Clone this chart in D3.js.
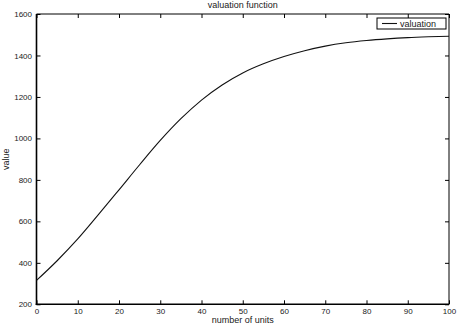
<!DOCTYPE html>
<html>
<head>
<meta charset="utf-8">
<script src="https://cdn.jsdelivr.net/npm/d3@7"></script>
<style>
  html, body { margin: 0; padding: 0; background: #fff; }
  svg { display: block; }
  text { font-family: "Liberation Sans", Arial, Helvetica, sans-serif; fill: #1a1a1a; }
</style>
</head>
<body>
<svg id="chart" width="458" height="324"></svg>
<script>
// Data
const units = [0, 5, 10, 15, 20, 25, 30, 35, 40, 45, 50, 55, 60, 65, 70, 75, 80, 85, 90, 95, 100];
const valuation = [315, 410, 515, 632, 752, 873, 990, 1095, 1185, 1258, 1316, 1360, 1395, 1423, 1445, 1461, 1472, 1480, 1486, 1490, 1493];
const xTicks = [0, 10, 20, 30, 40, 50, 60, 70, 80, 90, 100];
const yTicks = [200, 400, 600, 800, 1000, 1200, 1400, 1600];
const titleText = "valuation function";
const xLabel = "number of units";
const yLabel = "value";
const legendLabel = "valuation";

const svg = d3.select("#chart");
const m = { left: 36.5, right: 449, top: 14, bottom: 304.3 };

const x = d3.scaleLinear().domain([0, 100]).range([m.left, m.right]);
const y = d3.scaleLinear().domain([200, 1600]).range([m.bottom, m.top]);

const tickLen = 4;
const fmt = d3.format("d");
const g = svg.append("g");

const bottomAxis = d3.axisBottom(x).tickValues(xTicks).tickSizeInner(-tickLen).tickSizeOuter(0).tickPadding(4.5).tickFormat(fmt);
const topAxis = d3.axisTop(x).tickValues(xTicks).tickSizeInner(-tickLen).tickSizeOuter(0).tickFormat("");
const leftAxis = d3.axisLeft(y).tickValues(yTicks).tickSizeInner(-tickLen).tickSizeOuter(0).tickPadding(4.5).tickFormat(fmt);
const rightAxis = d3.axisRight(y).tickValues(yTicks).tickSizeInner(-tickLen).tickSizeOuter(0).tickFormat("");

function style(sel) {
  sel.select(".domain").remove();
  sel.selectAll(".tick line").attr("stroke", "#000").attr("stroke-width", 1);
  sel.selectAll(".tick text").style("font-family", '"Liberation Sans", Arial, sans-serif')
     .style("font-size", "8px").attr("fill", "#1a1a1a");
}

g.append("g").attr("transform", `translate(0,${m.bottom})`).call(bottomAxis).call(style);
g.append("g").attr("transform", `translate(0,${m.top})`).call(topAxis).call(style);
g.append("g").attr("transform", `translate(${m.left},0)`).call(leftAxis).call(style);
g.append("g").attr("transform", `translate(${m.right},0)`).call(rightAxis).call(style);

// frame
svg.append("line").attr("x1", m.left).attr("x2", m.right).attr("y1", m.top).attr("y2", m.top)
  .attr("stroke", "#000").attr("stroke-width", 1);
svg.append("line").attr("x1", m.right).attr("x2", m.right).attr("y1", m.top).attr("y2", m.bottom)
  .attr("stroke", "#000").attr("stroke-width", 1);
svg.append("line").attr("x1", m.left).attr("x2", m.left).attr("y1", m.top).attr("y2", m.bottom + 0.75)
  .attr("stroke", "#000").attr("stroke-width", 1.6);
svg.append("line").attr("x1", m.left - 0.8).attr("x2", m.right).attr("y1", m.bottom).attr("y2", m.bottom)
  .attr("stroke", "#000").attr("stroke-width", 1.6);

// curve
const line = d3.line().x((d, i) => x(units[i])).y(d => y(d)).curve(d3.curveMonotoneX);
svg.append("path").datum(valuation).attr("d", line)
  .attr("fill", "none").attr("stroke", "#111").attr("stroke-width", 1.1);

// title and labels
svg.append("text").attr("x", (m.left + m.right) / 2).attr("y", 8)
  .attr("text-anchor", "middle").style("font-size", "9px").text(titleText);
svg.append("text").attr("x", (m.left + m.right) / 2).attr("y", 323.3)
  .attr("text-anchor", "middle").style("font-size", "9px").text(xLabel);
svg.append("text").attr("transform", `translate(8.5,${(m.top + m.bottom) / 2}) rotate(-90)`)
  .attr("text-anchor", "middle").style("font-size", "9px").text(yLabel);

// legend
const lg = svg.append("g");
lg.append("rect").attr("x", 377).attr("y", 18).attr("width", 69).attr("height", 11)
  .attr("fill", "#fff").attr("stroke", "#000").attr("stroke-width", 1);
lg.append("line").attr("x1", 382).attr("x2", 397).attr("y1", 23.5).attr("y2", 23.5)
  .attr("stroke", "#111").attr("stroke-width", 1.1);
lg.append("text").attr("x", 400).attr("y", 26.5).style("font-size", "9px").text(legendLabel);
</script>
</body>
</html>
